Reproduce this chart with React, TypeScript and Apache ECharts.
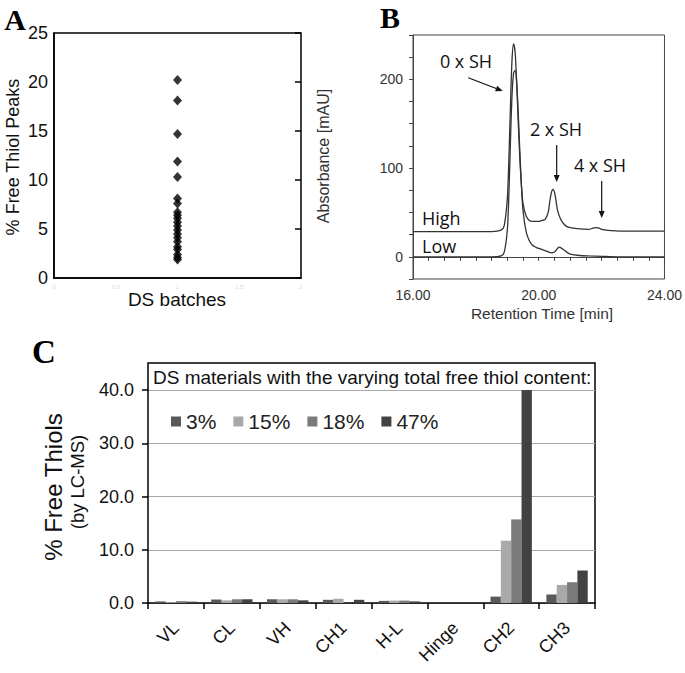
import React, { useEffect, useRef } from "react";
import * as echarts from "echarts";

// ---------- Panel A ----------
const batchValues = [20.2, 18.1, 14.7, 11.9, 10.3, 8.1, 7.6, 6.7, 6.4, 6.1, 5.7, 5.3, 4.9, 4.5, 4.1, 3.7, 3.2, 2.9, 2.4, 2.1, 1.9];
const aTickLabels = ["0", "0.5", "1", "1.5", "2"];

// ---------- Panel B (retention time [min], absorbance [mAU]) ----------
const highTrace: [number, number][] = [
  [16.0, 28.5], [18.5, 28.5], [18.8, 30], [18.9, 35], [19.0, 65], [19.05, 110], [19.1, 170], [19.15, 222],
  [19.2, 240], [19.25, 230], [19.3, 195], [19.35, 150], [19.4, 110], [19.45, 80], [19.5, 60], [19.6, 46],
  [19.7, 41], [19.8, 40], [19.9, 40], [20.0, 40], [20.1, 41], [20.2, 42], [20.3, 50], [20.35, 62], [20.4, 72],
  [20.45, 76], [20.5, 73], [20.55, 63], [20.6, 52], [20.7, 42], [20.8, 37], [20.9, 34], [21.0, 33], [21.3, 31.5],
  [21.6, 31], [21.7, 32], [21.8, 33], [21.9, 32.5], [22.0, 31], [22.3, 29.5], [22.6, 29], [24.0, 29],
];
const lowTrace: [number, number][] = [
  [16.0, 0], [18.5, 0], [18.8, 1], [18.9, 5], [19.0, 30], [19.05, 70], [19.1, 130], [19.15, 182], [19.2, 207],
  [19.25, 210], [19.3, 195], [19.35, 160], [19.4, 118], [19.45, 80], [19.5, 52], [19.6, 28], [19.7, 18],
  [19.8, 13], [19.9, 11], [20.0, 9.5], [20.2, 7], [20.4, 4.5], [20.5, 5.5], [20.6, 9.5], [20.65, 11], [20.75, 9],
  [20.9, 5], [21.0, 3], [21.3, 1.5], [21.6, 1], [22.0, 0.5], [22.5, 0], [24.0, 0],
];

// ---------- Panel C ----------
const regions = ["VL", "CL", "VH", "CH1", "H-L", "Hinge", "CH2", "CH3"];
const seriesNames = ["3%", "15%", "18%", "47%"];
const thiol3 = [0.3, 0.65, 0.7, 0.6, 0.4, 0, 1.2, 1.6];
const thiol15 = [0.15, 0.5, 0.7, 0.8, 0.45, 0, 11.7, 3.4];
const thiol18 = [0.35, 0.7, 0.7, 0, 0.45, 0, 15.7, 3.9];
const thiol47 = [0.25, 0.7, 0.5, 0.6, 0.3, 0, 42, 6.1];
const barColors = ["#595959", "#a9a9a9", "#7a7a7a", "#424242"];

const SANS = "Liberation Sans, Arial, sans-serif";
const SERIF = "Liberation Serif, Times New Roman, serif";
const OPEN = "Open Sans, Noto Sans, sans-serif";

function arrow(x1: number, y1: number, x2: number, y2: number) {
  const dx = x2 - x1, dy = y2 - y1;
  const len = Math.hypot(dx, dy);
  const ux = dx / len, uy = dy / len;
  const hl = 7, hw = 3;
  const bx = x2 - ux * hl, by = y2 - uy * hl;
  return [
    { type: "line", shape: { x1, y1, x2: bx, y2: by }, style: { stroke: "#111", lineWidth: 1.2 } },
    {
      type: "polygon",
      shape: { points: [[x2, y2], [bx - uy * hw, by + ux * hw], [bx + uy * hw, by - ux * hw]] },
      style: { fill: "#111" },
    },
  ];
}

function txt(text: string, x: number, y: number, size: number, family: string, extra: any = {}) {
  return {
    type: "text", x, y, rotation: extra.rotation || 0,
    style: {
      text, fontSize: size, fontFamily: family, fontWeight: extra.weight || "normal",
      fill: extra.fill || "#111", align: extra.align || "center", verticalAlign: "middle",
    },
  };
}

export default function App() {
  const ref = useRef<HTMLDivElement>(null);
  useEffect(() => {
    document.body.style.margin = "0";
    const chart = echarts.init(ref.current!, undefined, { renderer: "svg" });
    const graphic: any[] = [
      txt("A", 15, 19, 30, SERIF, { weight: "bold", fill: "#000" }),
      txt("B", 390, 17, 30, SERIF, { weight: "bold", fill: "#000" }),
      txt("C", 44, 352, 33, SERIF, { weight: "bold", fill: "#000" }),
      txt("% Free Thiol Peaks", 12.5, 157, 18, SANS, { rotation: Math.PI / 2 }),
      txt("DS batches", 177, 299, 19, SANS),
      txt("Absorbance [mAU]", 323, 156, 16, SANS, { rotation: Math.PI / 2, fill: "#333" }),
      txt("Retention Time [min]", 542, 313, 15.5, SANS, { fill: "#333" }),
      txt("0 x SH", 466, 61, 18, OPEN),
      txt("2 x SH", 556, 129, 18, OPEN),
      txt("4 x SH", 600, 165, 18, OPEN),
      txt("High", 422, 218, 18, OPEN, { align: "left" }),
      txt("Low", 422, 246, 18, OPEN, { align: "left" }),
      ...arrow(468.3, 77.7, 502.7, 91),
      ...arrow(556.7, 145, 556.7, 182),
      ...arrow(601.7, 181, 601.7, 218),
      {
        type: "polyline",
        shape: { points: [[148, 390], [148, 363], [595, 363], [595, 603]] },
        style: { stroke: "#000", lineWidth: 1.5, fill: "none" },
      },
      txt("DS materials with the varying total free thiol content:", 153, 377, 19, SANS, { align: "left" }),
      txt("% Free Thiols", 53, 487, 24, SANS, { rotation: Math.PI / 2 }),
      txt("(by LC-MS)", 77.5, 482, 18.5, SANS, { rotation: Math.PI / 2 }),
    ];
    const option: any = {
      animation: false,
      backgroundColor: "#fff",
      textStyle: { fontFamily: SANS },
      grid: [
        { left: 54, top: 33, width: 247, height: 245, show: true, borderColor: "#000", borderWidth: 1.5, backgroundColor: "transparent" },
        { left: 413, top: 35, width: 260, height: 244, show: true, borderColor: "#444", borderWidth: 1, backgroundColor: "transparent" },
        { left: 148, top: 390, width: 447, height: 213 },
      ],
      legend: {
        data: seriesNames,
        left: 166,
        top: 406,
        icon: "rect",
        itemWidth: 10,
        itemHeight: 10,
        itemGap: 17,
        textStyle: { fontSize: 21, color: "#222", fontFamily: SANS },
      },
      xAxis: [
        {
          type: "value", gridIndex: 0, min: 0, max: 2, interval: 0.5,
          axisLine: { lineStyle: { color: "#000", width: 1.5 } },
          axisTick: { show: false },
          axisLabel: { color: "#dcdcdc", fontSize: 6, margin: 6, formatter: (v: number) => aTickLabels[Math.round(v * 2)] },
          splitLine: { show: false },
        },
        {
          type: "value", gridIndex: 1, min: 16, max: 24, interval: 0.5,
          axisLine: { lineStyle: { color: "#444", width: 1 } },
          axisTick: { show: true, length: 4, lineStyle: { color: "#444" } },
          axisLabel: {
            color: "#333", fontSize: 14, margin: 9, fontFamily: SANS,
            formatter: (v: number) => (v === 16 || v === 20 || v === 24 ? v.toFixed(2) : ""),
          },
          splitLine: { show: false },
        },
        {
          type: "category", gridIndex: 2, data: regions,
          axisLine: { lineStyle: { color: "#000", width: 1.5 } },
          axisTick: { show: true, length: 6, alignWithLabel: false, lineStyle: { color: "#000", width: 1.5 } },
          axisLabel: { show: true, rotate: 45, interval: 0, fontSize: 18, color: "#111", margin: 22, fontFamily: SANS },
        },
      ],
      yAxis: [
        {
          type: "value", gridIndex: 0, min: 0, max: 25, interval: 5,
          axisLine: { show: true, lineStyle: { color: "#000", width: 1.5 } },
          axisTick: { show: false },
          axisLabel: { fontSize: 18, color: "#111", margin: 6, fontFamily: SANS },
          splitLine: { show: false },
        },
        {
          type: "value", gridIndex: 0, min: 0, max: 25, interval: 5, position: "right",
          axisLine: { show: false },
          axisTick: { show: true, inside: true, length: 6, lineStyle: { color: "#000", width: 1.5 } },
          axisLabel: { show: false },
          splitLine: { show: false },
        },
        {
          type: "value", gridIndex: 1, min: -25, max: 250, interval: 25,
          axisLine: { show: true, lineStyle: { color: "#444", width: 1 } },
          axisTick: { show: true, length: 4, lineStyle: { color: "#444" } },
          axisLabel: {
            fontSize: 14, color: "#333", margin: 10, fontFamily: SANS,
            formatter: (v: number) => (v === 0 || v === 100 || v === 200 ? String(v) : ""),
          },
          splitLine: { show: false },
        },
        {
          type: "value", gridIndex: 2, min: 0, max: 40, interval: 10,
          axisLine: { show: true, lineStyle: { color: "#000", width: 1.5 } },
          axisTick: { show: true, length: 6, lineStyle: { color: "#000", width: 1.5 } },
          axisLabel: { fontSize: 18, color: "#111", margin: 14, fontFamily: SANS, formatter: (v: number) => v.toFixed(1) },
          splitLine: { show: true, lineStyle: { color: "#a8a8a8", width: 1.2 } },
        },
      ],
      series: [
        {
          type: "scatter", name: "batches", xAxisIndex: 0, yAxisIndex: 0,
          symbol: "diamond", symbolSize: [9, 10],
          itemStyle: { color: "#000" },
          data: batchValues.map((v) => [1, v]),
        },
        {
          type: "line", name: "High", xAxisIndex: 1, yAxisIndex: 2, showSymbol: false, smooth: 0.3,
          lineStyle: { color: "#333", width: 1.3 }, data: highTrace,
        },
        {
          type: "line", name: "Low", xAxisIndex: 1, yAxisIndex: 2, showSymbol: false, smooth: 0.3,
          lineStyle: { color: "#333", width: 1.3 }, data: lowTrace,
        },
        ...[thiol3, thiol15, thiol18, thiol47].map((d, i) => ({
          type: "bar", name: seriesNames[i], xAxisIndex: 2, yAxisIndex: 3,
          barGap: "0%", barCategoryGap: "26%",
          itemStyle: { color: barColors[i] },
          data: d,
        })),
      ],
      graphic,
    };
    chart.setOption(option);
    return () => chart.dispose();
  }, []);
  return <div ref={ref} style={{ position: "absolute", left: 0, top: 0, width: 685, height: 673 }} />;
}
